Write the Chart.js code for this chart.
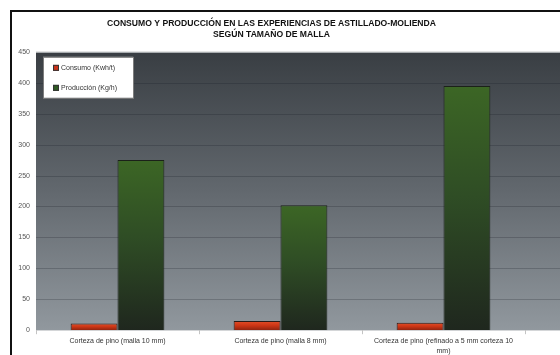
<!DOCTYPE html>
<html>
<head>
<meta charset="utf-8">
<script src="https://cdn.jsdelivr.net/npm/chart.js@4"></script>
<style>
    html, body { margin: 0; padding: 0; background: #ffffff; overflow: hidden; }
    #wrap { width: 560px; height: 355px; overflow: hidden; }
</style>
</head>
<body>
<div id="wrap"><canvas id="chart" width="560" height="358"></canvas></div>
<script>
// Data
const categories = [
    'Corteza de pino (malla 10 mm)',
    'Corteza de pino (malla 8 mm)',
    ['Corteza de pino (refinado a 5 mm corteza 10', 'mm)']
];
const consumo = [11, 15, 12];
const produccion = [275, 202, 395];
const yTicks = [0, 50, 100, 150, 200, 250, 300, 350, 400, 450];
const seriesColors = ['#c8321a', '#2f5a23'];

const FONT = "'Liberation Sans', Arial, sans-serif";

// Vertical gradient per bar, from its top down to the zero line
function barFill(stops, fallback) {
    return (ctx) => {
        const chart = ctx.chart;
        if (!chart.chartArea || ctx.raw == null) return fallback;
        const y = chart.scales.y.getPixelForValue(ctx.raw);
        const base = chart.scales.y.getPixelForValue(0);
        const g = chart.ctx.createLinearGradient(0, y, 0, base);
        stops.forEach(([p, c]) => g.addColorStop(p, c));
        return g;
    };
}

// Frame, plot background (runs past the right edge) and the boxed legend
const backdrop = {
    id: 'backdrop',
    beforeDraw(chart) {
        const { ctx, chartArea: a, width, height } = chart;
        const y = chart.scales.y;
        ctx.save();

        ctx.strokeStyle = '#111';
        ctx.lineWidth = 2;
        ctx.strokeRect(11, 11, width + 20, height + 20);

        const bg = ctx.createLinearGradient(0, a.top, 0, a.bottom);
        bg.addColorStop(0, '#393e43');
        bg.addColorStop(0.5, '#62686e');
        bg.addColorStop(1, '#91989e');
        ctx.fillStyle = bg;
        ctx.fillRect(a.left, a.top, width - a.left, a.bottom - a.top);

        ctx.lineWidth = 1;
        yTicks.forEach(v => {
            const py = Math.round(y.getPixelForValue(v)) + 0.5;
            ctx.strokeStyle = v === 450 ? '#a9adb0' : (v === 0 ? '#d4d6d8' : 'rgba(20,25,30,0.22)');
            ctx.beginPath();
            ctx.moveTo(a.left, py);
            ctx.lineTo(width, py);
            ctx.stroke();
        });

        // legend
        const lx = a.left + 7, ly = a.top + 5;
        ctx.fillStyle = '#ffffff';
        ctx.strokeStyle = '#7d7d7d';
        ctx.fillRect(lx, ly, 90, 41);
        ctx.strokeRect(lx + 0.5, ly + 0.5, 90, 41);
        ctx.font = '7px ' + FONT;
        ctx.textBaseline = 'middle';
        chart.data.datasets.forEach((ds, i) => {
            const cy = ly + 11 + i * 20;
            ctx.fillStyle = seriesColors[i];
            ctx.fillRect(lx + 10, cy - 3, 6, 6);
            ctx.strokeStyle = '#333';
            ctx.strokeRect(lx + 10.5, cy - 2.5, 5, 5);
            ctx.fillStyle = '#333';
            ctx.fillText(ds.label, lx + 18, cy);
        });
        ctx.restore();
    }
};

new Chart(document.getElementById('chart'), {
    type: 'bar',
    data: {
        labels: categories,
        datasets: [
            {
                label: 'Consumo (Kwh/t)',
                data: consumo,
                backgroundColor: barFill([[0, '#e4502a'], [0.5, '#cc3515'], [1, '#8e2410']], seriesColors[0]),
                borderColor: '#2a1a16',
                borderWidth: 1,
                categoryPercentage: 0.575,
                barPercentage: 1
            },
            {
                label: 'Producción (Kg/h)',
                data: produccion,
                backgroundColor: barFill([[0, '#3c6625'], [0.45, '#2f4d25'], [1, '#1f271e']], seriesColors[1]),
                borderColor: '#1b2119',
                borderWidth: 1,
                categoryPercentage: 0.575,
                barPercentage: 1
            }
        ]
    },
    options: {
        responsive: false,
        animation: false,
        layout: { padding: { left: 18, right: 35, top: 0, bottom: 0 } },
        plugins: {
            title: {
                display: true,
                text: [
                    'CONSUMO Y PRODUCCIÓN EN LAS EXPERIENCIAS DE ASTILLADO-MOLIENDA',
                    'SEGÚN TAMAÑO DE MALLA'
                ],
                color: '#111',
                font: { family: FONT, size: 8.6, weight: 'bold', lineHeight: 1.3 },
                padding: { top: 18, bottom: 11.5 }
            },
            legend: { display: false },
            tooltip: { enabled: false }
        },
        scales: {
            x: {
                grid: {
                    display: true,
                    drawOnChartArea: false,
                    tickLength: 4,
                    color: '#c4c4c4'
                },
                border: { display: false },
                ticks: {
                    color: '#333',
                    font: { family: FONT, size: 7, lineHeight: 1.3 },
                    padding: 2.8,
                    maxRotation: 0,
                    autoSkip: false
                }
            },
            y: {
                min: 0,
                max: 450,
                afterFit(scale) { scale.width = 18; },
                grid: { display: false, drawTicks: false, tickLength: 0 },
                border: { display: false },
                ticks: {
                    stepSize: 50,
                    color: '#555',
                    font: { family: FONT, size: 7 },
                    padding: 6
                }
            }
        }
    },
    plugins: [backdrop]
});
</script>
</body>
</html>
